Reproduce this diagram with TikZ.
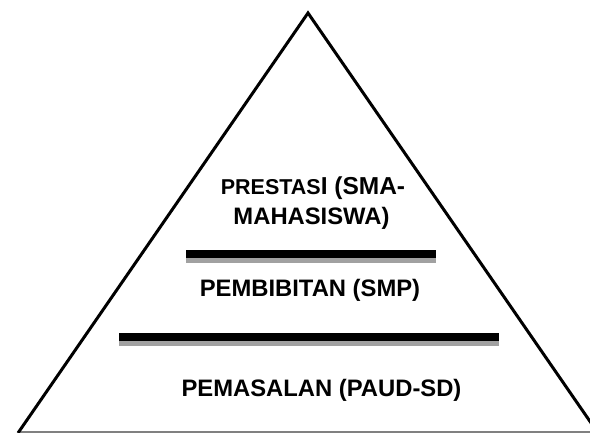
\documentclass[tikz,border=0pt]{standalone}
\usepackage{fontspec}
\setmainfont{Liberation Sans}
\begin{document}
\begin{tikzpicture}[x=1pt,y=1pt,
  lbl/.style={inner sep=0pt,anchor=base,font=\fontsize{23.8}{28}\selectfont\bfseries},
  barshadow/.style={fill=black!37,draw=none},
  barfill/.style={fill=black,draw=none}]
\useasboundingbox (0,0) rectangle (590,433);
\begin{scope}
\clip (0,0) rectangle (590,433);
\coordinate (apex) at (308,420);
\coordinate (bl) at (18,0);
\coordinate (br) at (598,0);
\draw[black!50,line width=1.2pt] (20,1) -- (590,1);
\draw[line width=3pt,line join=miter] (bl) -- (apex) -- (br);
\end{scope}
% bars
\fill[barshadow] (186,170) rectangle (436,176);
\fill[barfill] (186,175) rectangle (436,182.5);
\fill[barshadow] (119,87.3) rectangle (499,93);
\fill[barfill] (119,92.3) rectangle (499,100.3);
% texts
\node[lbl] (t1) at (313,238) {{\fontsize{21.5}{24}\selectfont PRESTAS}{\fontsize{24.5}{28}\selectfont I (SMA-}};
\node[lbl] (t2) at (311.5,208.5) {MAHASISWA)};
\node[lbl] (t3) at (310,136) {PEMBIBITAN (SMP)};
\node[lbl] (t4) at (321.5,36) {PEMASALAN (PAUD-SD)};
\end{tikzpicture}
\end{document}
